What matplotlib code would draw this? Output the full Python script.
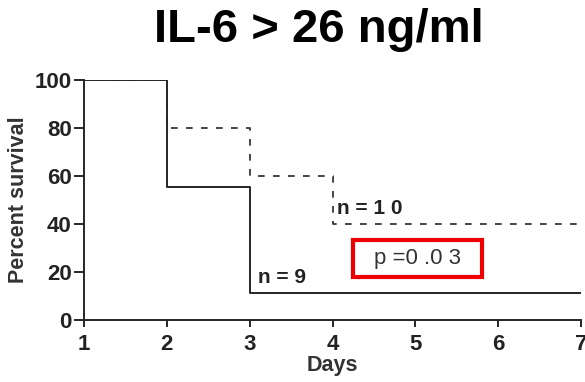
import matplotlib
matplotlib.use('Agg')
import matplotlib.pyplot as plt
from matplotlib.patches import Rectangle

plt.rcParams['font.family'] = ['Liberation Sans', 'DejaVu Sans']

days = [1, 2, 3, 4, 7]
survival_high = [100, 55.6, 11.1, 11.1, 11.1]   # solid, n = 9
survival_low = [100, 80, 60, 40, 40]            # dashed, n = 10
xticks = [1, 2, 3, 4, 5, 6, 7]
yticks = [0, 20, 40, 60, 80, 100]

line_col = '#262626'
text_col = '#222222'

fig = plt.figure(figsize=(5.85, 3.82), dpi=100)
ax = fig.add_axes([84 / 585, 1 - 320 / 382, 497 / 585, 240 / 382])

ax.plot(days, survival_low, drawstyle='steps-post', color=line_col, lw=1.2,
        linestyle=(0, (4, 5)))
ax.plot(days, survival_high, drawstyle='steps-post', color=line_col, lw=1.4)

ax.set_xlim(1, 7)
ax.set_ylim(0, 100)
ax.set_xticks(xticks)
ax.set_yticks(yticks)
for s in ['top', 'right']:
    ax.spines[s].set_visible(False)
for s in ['left', 'bottom']:
    ax.spines[s].set_linewidth(1.4)
    ax.spines[s].set_color(line_col)
ax.tick_params(axis='y', length=7, width=1.4, color=line_col, pad=2,
               labelsize=16, labelcolor=text_col)
ax.tick_params(axis='x', length=5, width=1.4, color=line_col, pad=5,
               labelsize=16, labelcolor=text_col)
for lab in ax.get_xticklabels() + ax.get_yticklabels():
    lab.set_fontweight('bold')

ax.set_ylabel('Percent survival', fontsize=15.5, fontweight='bold', color='#333333', labelpad=4)
ax.set_xlabel('Days', fontsize=15.5, fontweight='bold', color='#333333', labelpad=0)

ax.text(3.1, 15.4, 'n = 9', fontsize=15, fontweight='bold', color=text_col,
        ha='left', va='baseline')
ax.text(4.06, 44.2, 'n = 1 0', fontsize=15, fontweight='bold', color=text_col,
        ha='left', va='baseline')

ax.add_patch(Rectangle((4.25, 17.9), 1.56, 15.4, fill=False, edgecolor='#ee0000',
                       lw=3, clip_on=False))
ax.text(5.03, 25.6, 'p =0 .0 3', fontsize=16, color='#333333', ha='center', va='center')

fig.text(319 / 585, 1 - 30 / 382, 'IL-6 > 26 ng/ml', fontsize=34, fontweight='bold',
         ha='center', va='center', color='black')

fig.savefig('out.png', dpi=100)
